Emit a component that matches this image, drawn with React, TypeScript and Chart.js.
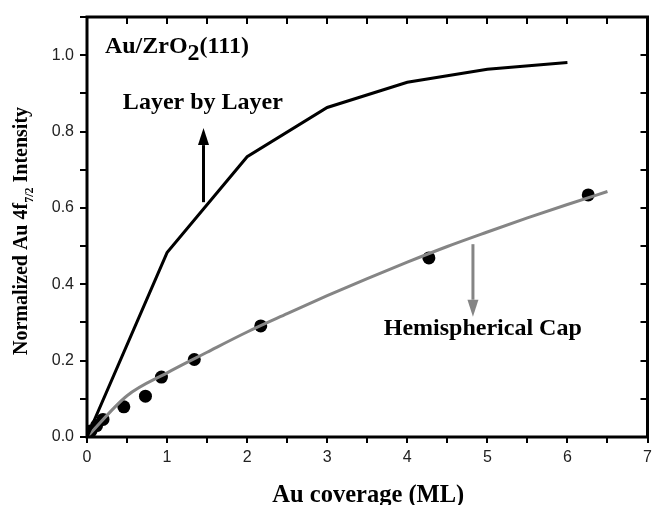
import React, { useEffect, useRef } from "react";
import { Chart, registerables } from "chart.js";

Chart.register(...registerables);

// Layer-by-layer model
const layerX = [0, 1, 2, 3, 4, 5, 6];
const layerY = [0, 0.483, 0.734, 0.863, 0.929, 0.963, 0.981];

// Hemispherical cap model
const capX = [0, 0.5, 1, 1.5, 2, 2.5, 3, 3.5, 4, 4.5, 5, 5.5, 6, 6.5];
const capY = [0, 0.108, 0.168, 0.222, 0.275, 0.323, 0.37, 0.415, 0.458, 0.499, 0.537, 0.574, 0.609, 0.643];

// Measured data
const measX = [0.05, 0.12, 0.2, 0.46, 0.73, 0.93, 1.34, 2.17, 4.27, 6.26];
const measY = [0.016, 0.03, 0.046, 0.079, 0.107, 0.157, 0.203, 0.291, 0.469, 0.634];

// Arrows (x, yStart, yTip) in data units
const arrowUp = [1.455, 0.615, 0.809];
const arrowDown = [4.82, 0.505, 0.315];

const xTicks = [0, 1, 2, 3, 4, 5, 6, 7];
const yTicks = [0, 0.2, 0.4, 0.6, 0.8, 1.0];

const GRAY = "#858585";

const decorPlugin = {
  id: "decor",
  afterDatasetsDraw(chart: any) {
    const ctx = chart.ctx as CanvasRenderingContext2D;
    const ca = chart.chartArea;
    const xs = chart.scales.x;
    const ys = chart.scales.y;
    ctx.save();
    // ticks
    ctx.strokeStyle = "#000";
    ctx.lineWidth = 2;
    for (let v = 0; v <= 7.0001; v += 0.5) {
      const px = Math.round(xs.getPixelForValue(v));
      ctx.beginPath();
      ctx.moveTo(px, ca.bottom);
      ctx.lineTo(px, ca.bottom + 6);
      ctx.moveTo(px, ca.top);
      ctx.lineTo(px, ca.top + 7);
      ctx.stroke();
    }
    for (let v = 0; v <= 1.1001; v += 0.1) {
      const py = Math.round(ys.getPixelForValue(v));
      ctx.beginPath();
      ctx.moveTo(ca.left, py);
      ctx.lineTo(ca.left - 7, py);
      ctx.moveTo(ca.right, py);
      ctx.lineTo(ca.right - 7, py);
      ctx.stroke();
    }
    // frame
    ctx.lineWidth = 3;
    ctx.strokeRect(ca.left, ca.top, ca.right - ca.left, ca.bottom - ca.top);

    // arrows
    const drawArrow = (a: number[], color: string) => {
      const x = xs.getPixelForValue(a[0]);
      const y0 = ys.getPixelForValue(a[1]);
      const y1 = ys.getPixelForValue(a[2]);
      const dir = y1 < y0 ? -1 : 1;
      const head = 17;
      ctx.strokeStyle = color;
      ctx.fillStyle = color;
      ctx.lineWidth = 3;
      ctx.beginPath();
      ctx.moveTo(x, y0);
      ctx.lineTo(x, y1 - dir * head);
      ctx.stroke();
      ctx.beginPath();
      ctx.moveTo(x, y1);
      ctx.lineTo(x - 5.5, y1 - dir * head);
      ctx.lineTo(x + 5.5, y1 - dir * head);
      ctx.closePath();
      ctx.fill();
    };
    drawArrow(arrowUp, "#000");
    drawArrow(arrowDown, GRAY);

    // annotations
    ctx.fillStyle = "#000";
    ctx.textBaseline = "alphabetic";
    ctx.textAlign = "left";
    const serifB = (s: number) => `bold ${s}px "Liberation Serif", "Times New Roman", serif`;
    ctx.font = serifB(24);
    let tx = xs.getPixelForValue(0.224);
    const ty = ys.getPixelForValue(1.006);
    const parts: [string, number][] = [["Au/ZrO", 0], ["2", 7], ["(111)", 0]];
    for (const [s, dy] of parts) {
      ctx.fillText(s, tx, ty + dy);
      tx += ctx.measureText(s).width;
    }
    ctx.fillText("Layer by Layer", xs.getPixelForValue(0.448), ys.getPixelForValue(0.859));
    ctx.fillText("Hemispherical Cap", xs.getPixelForValue(3.706), ys.getPixelForValue(0.267));

    // x title
    ctx.textAlign = "center";
    ctx.font = serifB(24.5);
    ctx.fillText("Au coverage (ML)", (ca.left + ca.right) / 2 + 1, 502);

    // y title with subscript
    const yParts: [string, number, number][] = [
      ["Normalized Au 4f", 20, 0],
      ["7/2", 12, 6],
      [" Intensity", 20, 0],
    ];
    let total = 0;
    for (const [s, size] of yParts) {
      ctx.font = serifB(size);
      total += ctx.measureText(s).width;
    }
    ctx.translate(27, 231 + total / 2);
    ctx.rotate(-Math.PI / 2);
    ctx.textAlign = "left";
    let lx = 0;
    for (const [s, size, dy] of yParts) {
      ctx.font = serifB(size);
      ctx.fillText(s, lx, dy);
      lx += ctx.measureText(s).width;
    }
    ctx.restore();
  },
};

export default function App() {
  const ref = useRef<HTMLCanvasElement | null>(null);
  useEffect(() => {
    document.body.style.margin = "0";
    const canvas = ref.current!;
    const tickFont = { family: '"Liberation Sans", Arial, sans-serif', size: 16 };
    const chart = new Chart(canvas, {
      type: "scatter",
      data: {
        datasets: [
          {
            type: "line",
            label: "Layer by Layer",
            data: layerX.map((x, i) => ({ x, y: layerY[i] })),
            borderColor: "#000",
            borderWidth: 3,
            pointRadius: 0,
            fill: false,
            tension: 0,
          },
          {
            type: "line",
            label: "Hemispherical Cap",
            data: capX.map((x, i) => ({ x, y: capY[i] })),
            borderColor: GRAY,
            borderWidth: 3,
            pointRadius: 0,
            fill: false,
            cubicInterpolationMode: "monotone",
          },
          {
            type: "scatter",
            label: "Data",
            data: measX.map((x, i) => ({ x, y: measY[i] })),
            backgroundColor: "#000",
            borderColor: "#000",
            pointRadius: 6.5,
            borderWidth: 0,
          },
        ],
      } as any,
      options: {
        responsive: false,
        animation: false,
        devicePixelRatio: 1,
        layout: { padding: { left: 0, right: 4, top: 17, bottom: 0 } },
        plugins: { legend: { display: false }, tooltip: { enabled: false } },
        scales: {
          x: {
            type: "linear",
            min: 0,
            max: 7,
            grid: { display: false, drawTicks: false },
            border: { display: false },
            afterBuildTicks: (s: any) => {
              s.ticks = xTicks.map((v) => ({ value: v }));
            },
            ticks: {
              font: tickFont,
              color: "#222",
              padding: 11,
              maxRotation: 0,
              callback: (v: any) => String(v),
            },
            afterFit: (s: any) => {
              s.height = 68;
              s.paddingLeft = 0;
              s.paddingRight = 0;
            },
          },
          y: {
            type: "linear",
            min: 0,
            max: 1.1,
            grid: { display: false, drawTicks: false },
            border: { display: false },
            afterBuildTicks: (s: any) => {
              s.ticks = yTicks.map((v) => ({ value: v }));
            },
            ticks: {
              font: tickFont,
              color: "#222",
              padding: 13,
              callback: (v: any) => Number(v).toFixed(1),
            },
            afterFit: (s: any) => {
              s.width = 87;
              s.paddingTop = 0;
              s.paddingBottom = 0;
            },
          },
        },
      } as any,
      plugins: [decorPlugin],
    });
    return () => chart.destroy();
  }, []);
  return <canvas ref={ref} width={654} height={505} style={{ display: "block" }} />;
}
